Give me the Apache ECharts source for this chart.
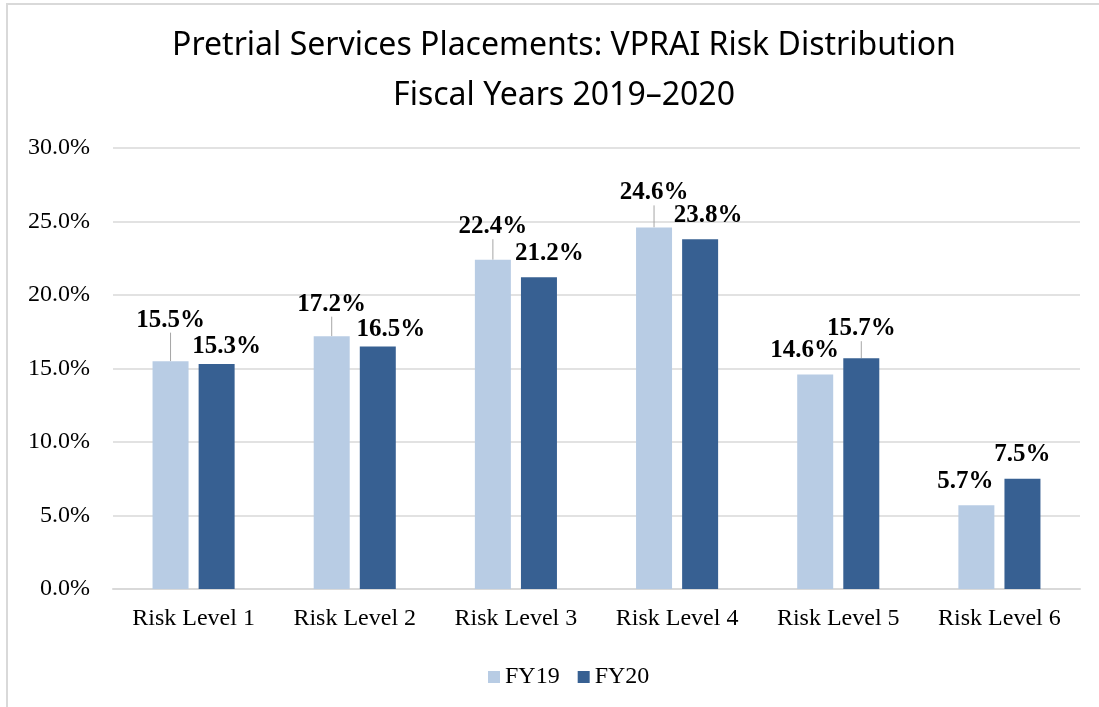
<!DOCTYPE html>
<html>
<head>
<meta charset="utf-8">
<title>Pretrial Services Placements: VPRAI Risk Distribution</title>
<script src="https://cdn.jsdelivr.net/npm/echarts@6/dist/echarts.min.js"></script>
<style>
  html, body { margin: 0; padding: 0; background: #fff; }
  #frame {
    position: absolute; left: 6px; top: 3px; width: 1093px; height: 704px;
    border-left: 2px solid #d9d9d9; border-top: 2px solid #d9d9d9;
  }
  #chart { position: absolute; left: 0; top: 0; width: 1099px; height: 707px; }
</style>
</head>
<body>
<div id="frame"></div>
<div id="chart"></div>
<script>
// data
const riskLevels = ["Risk Level 1", "Risk Level 2", "Risk Level 3", "Risk Level 4", "Risk Level 5", "Risk Level 6"];
const fy19 = [15.5, 17.2, 22.4, 24.6, 14.6, 5.7];
const fy20 = [15.3, 16.5, 21.2, 23.8, 15.7, 7.5];
const yTicks = [0, 5, 10, 15, 20, 25, 30];

// Excel moved some labels by hand; [dx, dy] per label, and which get a leader line
const nudge19 = [[0, -23.5], [0, -14.5], [0, -15.5], [0, -17], [-10.5, -6.5], [-11, -6]];
const nudge20 = [[10, 0], [13, 1], [10.5, -6.5], [8, -6.5], [0, -12], [0, -6.5]];
const leader19 = [true, true, true, true, false, false];
const leader20 = [false, false, false, false, true, false];

const serif = "'Liberation Serif', 'Times New Roman', serif";
const sans = "'Noto Sans', sans-serif";
const nudges = [nudge19, nudge20];

const toItems = (vals, leaders) => vals.map((v, i) => ({
  value: v,
  labelLine: { show: leaders[i], lineStyle: { color: "#a6a6a6", width: 1 } }
}));

const barLabel = {
  show: true,
  position: "top",
  distance: 5,
  color: "#000",
  fontFamily: serif,
  fontWeight: "bold",
  fontSize: 25,
  formatter: p => p.value.toFixed(1) + "%"
};

const nudgeLayout = p => ({
  dx: nudges[p.seriesIndex][p.dataIndex][0],
  dy: nudges[p.seriesIndex][p.dataIndex][1]
});

const option = {
  backgroundColor: "transparent",
  animation: false,
  title: [
    {
      text: "Pretrial Services Placements: VPRAI Risk Distribution",
      left: 559, top: 25, textAlign: "center",
      textStyle: { fontFamily: sans, fontWeight: "normal", fontSize: 32, color: "#000" }
    },
    {
      text: "Fiscal Years 2019\u20132020",
      left: 559, top: 75, textAlign: "center",
      textStyle: { fontFamily: sans, fontWeight: "normal", fontSize: 32, color: "#000" }
    }
  ],
  legend: {
    left: 483, top: 660,
    itemWidth: 12, itemHeight: 12, itemGap: 18,
    icon: "rect",
    textStyle: { fontFamily: serif, fontSize: 24, color: "#000" },
    data: ["FY19", "FY20"]
  },
  grid: { left: 113, right: 19, top: 148, bottom: 118 },
  xAxis: {
    type: "category",
    data: riskLevels,
    axisTick: { show: false },
    axisLine: { lineStyle: { color: "#d9d9d9", width: 2 } },
    axisLabel: { fontFamily: serif, fontSize: 24, color: "#000", margin: 18 }
  },
  yAxis: {
    type: "value",
    min: yTicks[0],
    max: yTicks[yTicks.length - 1],
    interval: yTicks[1] - yTicks[0],
    axisLine: { show: false },
    axisTick: { show: false },
    splitLine: { lineStyle: { color: "#d9d9d9", width: 1.5 } },
    axisLabel: { fontFamily: serif, fontSize: 24, color: "#000", margin: 23, formatter: v => v.toFixed(1) + "%" }
  },
  series: [
    {
      name: "FY19", type: "bar", barWidth: 36, barGap: "28%",
      itemStyle: { color: "#b8cce4" },
      label: barLabel,
      labelLayout: nudgeLayout,
      data: toItems(fy19, leader19)
    },
    {
      name: "FY20", type: "bar", barWidth: 36, barGap: "28%",
      itemStyle: { color: "#376092" },
      label: barLabel,
      labelLayout: nudgeLayout,
      data: toItems(fy20, leader20)
    }
  ]
};

const myChart = echarts.init(document.getElementById("chart"));
myChart.setOption(option);
</script>
</body>
</html>
